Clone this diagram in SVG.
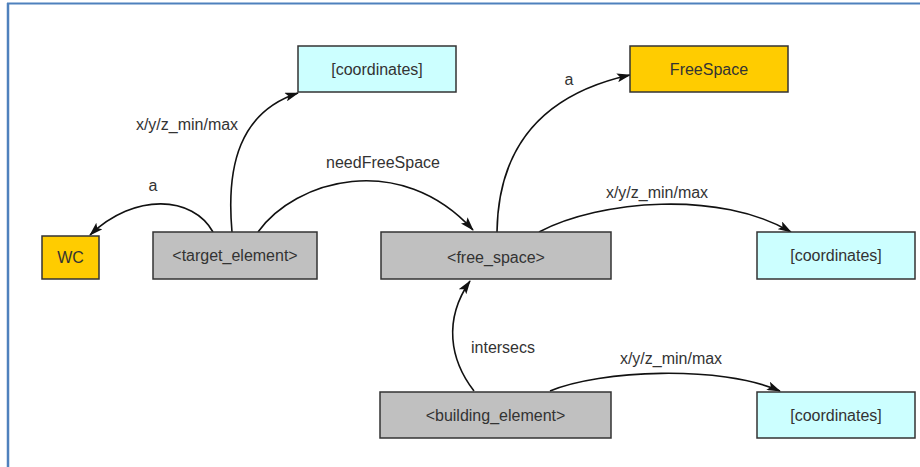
<svg xmlns="http://www.w3.org/2000/svg" width="920" height="467" viewBox="0 0 920 467">
<defs>
<style>
.n rect{stroke:#333;stroke-width:1.5}
.g rect{fill:#c0c0c0}
.c rect{fill:#ccffff}
.y rect{fill:#ffcc00}
text{font-family:"Liberation Sans",Arial,sans-serif;font-size:16px;fill:#333}
.n text{text-anchor:middle}
.e path{fill:none;stroke:#111;stroke-width:1.6;marker-end:url(#arr)}
</style>
<marker id="arr" viewBox="0 0 14 9" refX="13" refY="4.5" markerWidth="14" markerHeight="9" markerUnits="userSpaceOnUse" orient="auto">
<path d="M0,0 L14,4.5 L0,9 L3,4.5 z" fill="#111"/>
</marker>
</defs>
<rect width="920" height="467" fill="#fff"/>
<line x1="7" y1="3.5" x2="920" y2="3.5" stroke="#4f81bd" stroke-width="2"/>
<line x1="8" y1="3" x2="8" y2="467" stroke="#4f81bd" stroke-width="2.5"/>

<g id="connectors" class="e">
<path d="M213,232 C193,196 135,192 90,235"/>
<path d="M232,232 C226,165 240,112 298,93"/>
<path d="M258,232 C295,180 400,150 473,230"/>
<path d="M497,232 C498,160 530,97 630,75"/>
<path d="M539,232 C600,200 720,190 791,232"/>
<path d="M474,391 C450,360 443,320 470,281"/>
<path d="M550,391 C600,370 720,365 780,391"/>
</g>
<g id="edge-labels">
<text x="153" y="191" text-anchor="middle">a</text>
<text x="187" y="130" text-anchor="middle">x/y/z_min/max</text>
<text x="383" y="168" text-anchor="middle">needFreeSpace</text>
<text x="569" y="85" text-anchor="middle">a</text>
<text x="657" y="198" text-anchor="middle">x/y/z_min/max</text>
<text x="503" y="353" text-anchor="middle">intersecs</text>
<text x="671" y="364" text-anchor="middle">x/y/z_min/max</text>
</g>

<g id="coords-top" class="n c"><rect x="298" y="46" width="158" height="46"/><text x="377" y="75">[coordinates]</text></g>
<g id="freespace-class" class="n y"><rect x="630" y="46" width="158" height="46"/><text x="709" y="75">FreeSpace</text></g>
<g id="wc" class="n y"><rect x="42" y="236" width="57" height="43"/><text x="70.5" y="263">WC</text></g>
<g id="target-element" class="n g"><rect x="153" y="232" width="164" height="47"/><text x="235" y="261">&lt;target_element&gt;</text></g>
<g id="free-space" class="n g"><rect x="381" y="232" width="230" height="47"/><text x="496" y="263">&lt;free_space&gt;</text></g>
<g id="coords-right" class="n c"><rect x="757" y="232" width="158" height="47"/><text x="836" y="261">[coordinates]</text></g>
<g id="building-element" class="n g"><rect x="380" y="392" width="231" height="46"/><text x="495.5" y="421">&lt;building_element&gt;</text></g>
<g id="coords-bottom" class="n c"><rect x="757" y="392" width="158" height="46"/><text x="836" y="421">[coordinates]</text></g>
</svg>
